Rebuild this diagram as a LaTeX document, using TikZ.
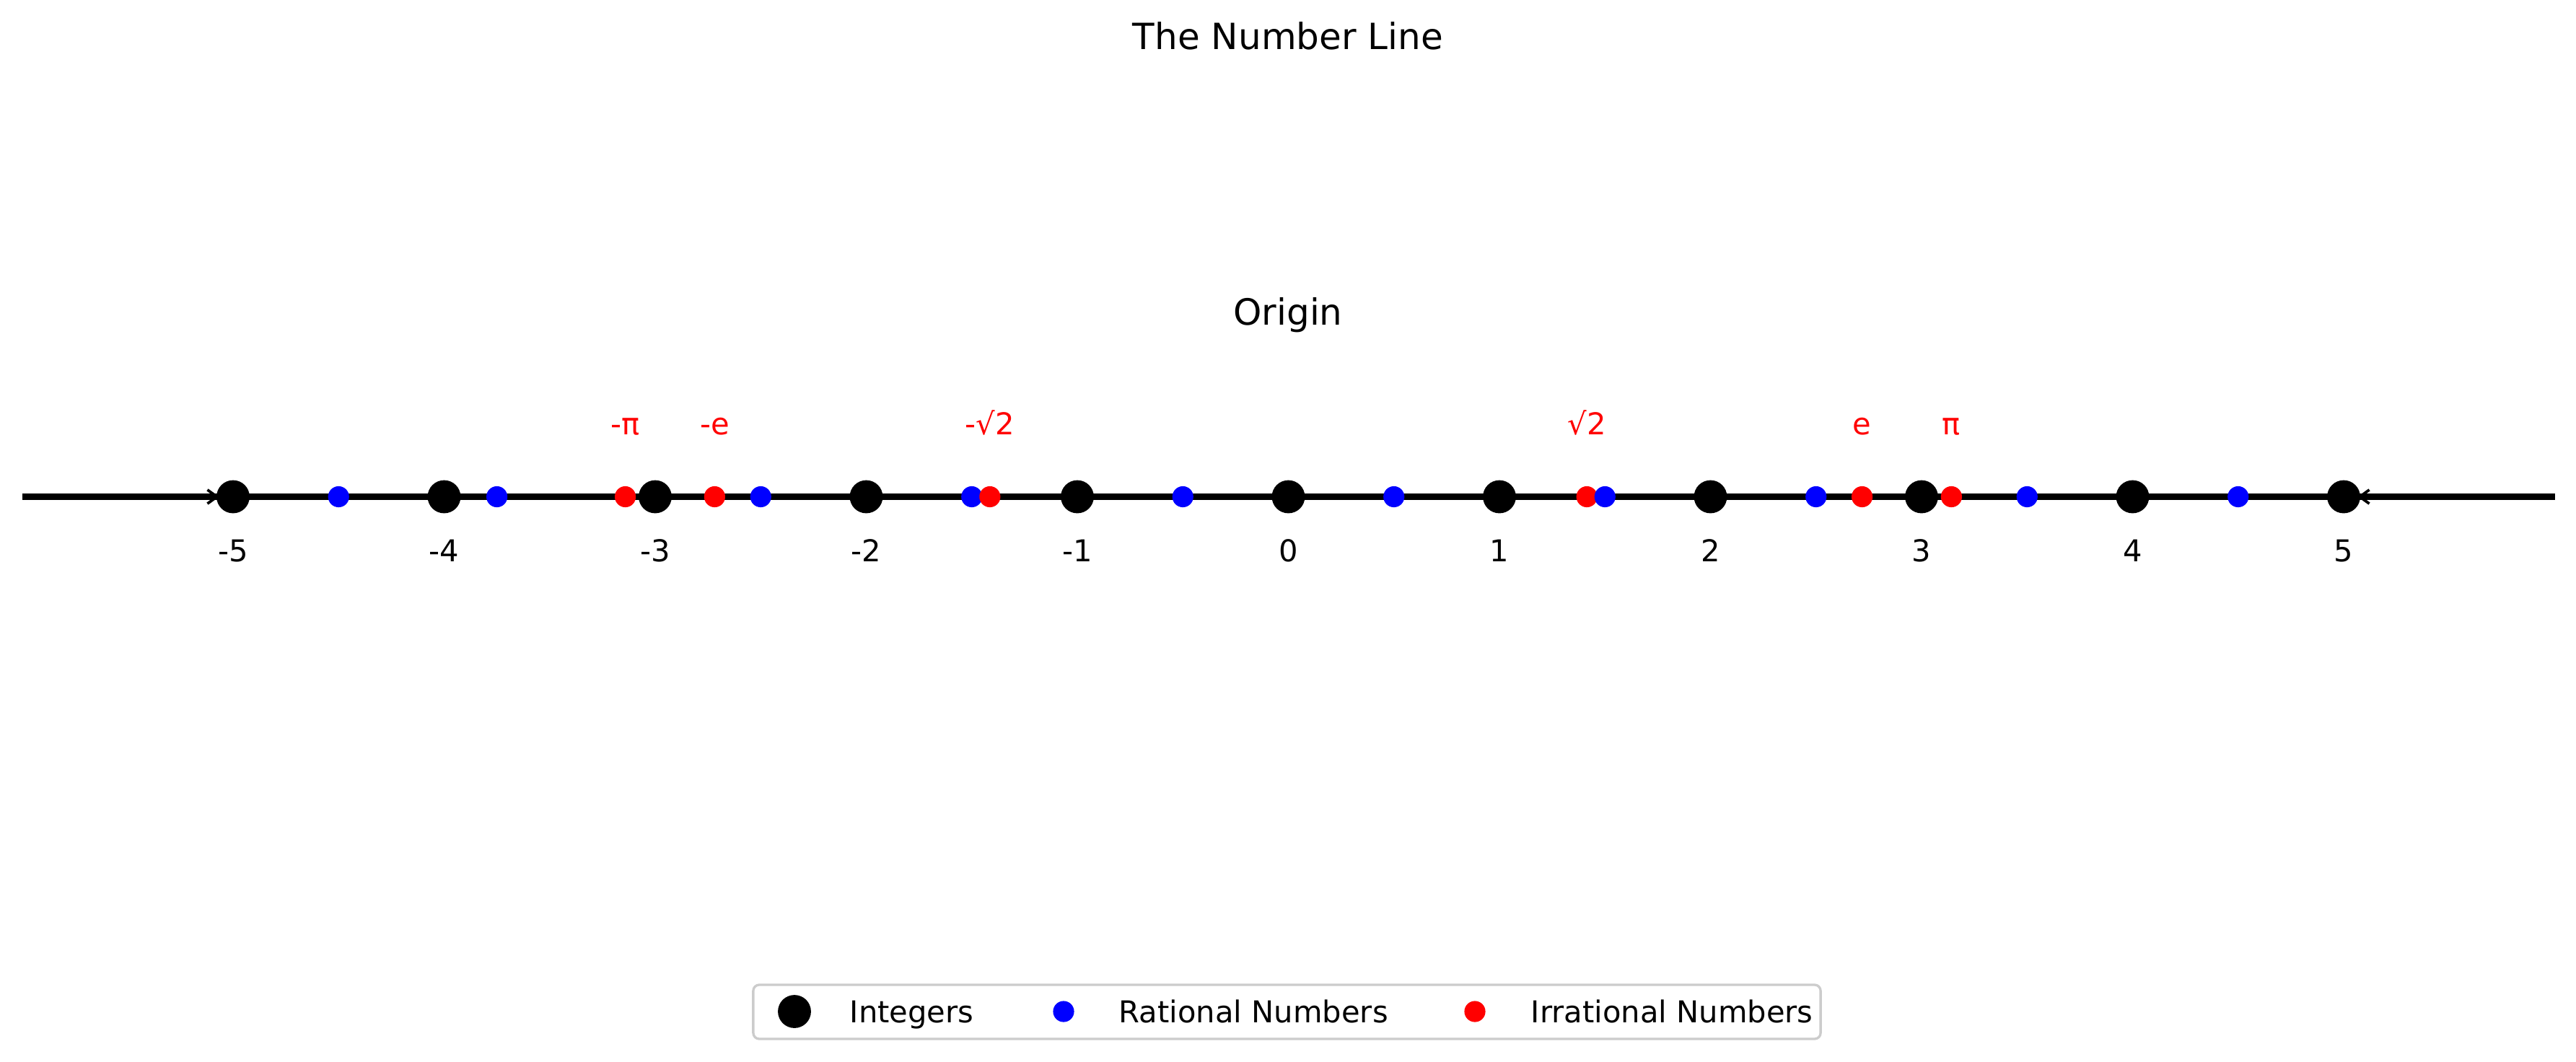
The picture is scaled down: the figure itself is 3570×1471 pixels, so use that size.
\documentclass[tikz,border=0pt]{standalone}
\usepackage{fontspec}
\setmainfont{DejaVu Sans}
\usetikzlibrary{arrows.meta}
\definecolor{legedge}{gray}{0.8}
\begin{document}
\begin{tikzpicture}[x=0.24bp,y=-0.24bp,
  intdot/.style={circle,fill=black,inner sep=0pt,outer sep=0pt,minimum size=11bp},
  ratdot/.style={circle,fill=blue,inner sep=0pt,outer sep=0pt,minimum size=7bp},
  irrdot/.style={circle,fill=red,inner sep=0pt,outer sep=0pt,minimum size=7bp},
  txt/.style={inner sep=0pt,anchor=base,font=\fontsize{10.04}{12}\selectfont},
  bigtxt/.style={inner sep=0pt,anchor=base,font=\fontsize{12.05}{14}\selectfont},
  redtxt/.style={txt,text=red},
  legtxt/.style={txt,anchor=base west},
  axisline/.style={line width=2bp,draw=black},
  arrowline/.style={line width=0.9bp,draw=black,-{Straight Barb[length=3.2bp,width=4.6bp]}},
  legbox/.style={draw=legedge,line width=0.8bp,fill=white,rounded corners=2bp,inner sep=0pt,minimum width=355bp,minimum height=18bp}
]
\useasboundingbox (0,0) rectangle (3570,1471);

% title and origin
\node[bigtxt] (title) at (1785,68) {The Number Line};
\node[bigtxt] (origin) at (1785,450) {Origin};

% axis line
\coordinate (L) at (30.5,688.5);
\coordinate (R) at (3540.5,688.5);
\coordinate (Ltip) at (304,688.5);
\coordinate (Rtip) at (3267,688.5);
\draw[axisline] (L) -- (R);
\draw[arrowline] (L) -- (Ltip);
\draw[arrowline] (R) -- (Rtip);

% points in order of position
\foreach \v/\s/\n in {
  -5/intdot/pm5, -4.5/ratdot/rm45, -4/intdot/pm4, -3.75/ratdot/rm375,
  -3.14159265/irrdot/ipi-, -3/intdot/pm3, -2.71828183/irrdot/ie-,
  -2.5/ratdot/rm25, -2/intdot/pm2, -1.5/ratdot/rm15, -1.41421356/irrdot/is-,
  -1/intdot/pm1, -0.5/ratdot/rm05, 0/intdot/p0, 0.5/ratdot/rp05,
  1/intdot/pp1, 1.41421356/irrdot/is+, 1.5/ratdot/rp15, 2/intdot/pp2,
  2.5/ratdot/rp25, 2.71828183/irrdot/ie+, 3/intdot/pp3, 3.14159265/irrdot/ipi+,
  3.5/ratdot/rp35, 4/intdot/pp4, 4.5/ratdot/rp45, 5/intdot/pp5}
{
  \node[\s] (\n) at ({1785.5+292.5*\v},688.5) {};
}

% integer tick labels
\foreach \v in {-5,...,5}
{
  \node[txt] (t\v) at ({1785.5+292.5*\v},778) {\v};
}

% irrational labels
\node[redtxt] (lpi-) at ({1785.5-292.5*3.14159265},602) {-π};
\node[redtxt] (le-) at ({1785.5-292.5*2.71828183},602) {-e};
\node[redtxt] (ls-) at ({1785.5-292.5*1.41421356},602) {-√2};
\node[redtxt] (ls+) at ({1785.5+292.5*1.41421356},602) {√2};
\node[redtxt] (le+) at ({1785.5+292.5*2.71828183},602) {e};
\node[redtxt] (lpi+) at ({1785.5+292.5*3.14159265},602) {π};

% legend
\node[legbox] (legend) at (1783.5,1402.5) {};
\node[intdot] (legint) at (1101,1402) {};
\node[legtxt] (legintt) at (1177,1417) {Integers};
\node[ratdot] (legrat) at (1474,1402) {};
\node[legtxt] (legratt) at (1550,1417) {Rational Numbers};
\node[irrdot] (legirr) at (2044,1402) {};
\node[legtxt] (legirrt) at (2121,1417) {Irrational Numbers};
\end{tikzpicture}
\end{document}
